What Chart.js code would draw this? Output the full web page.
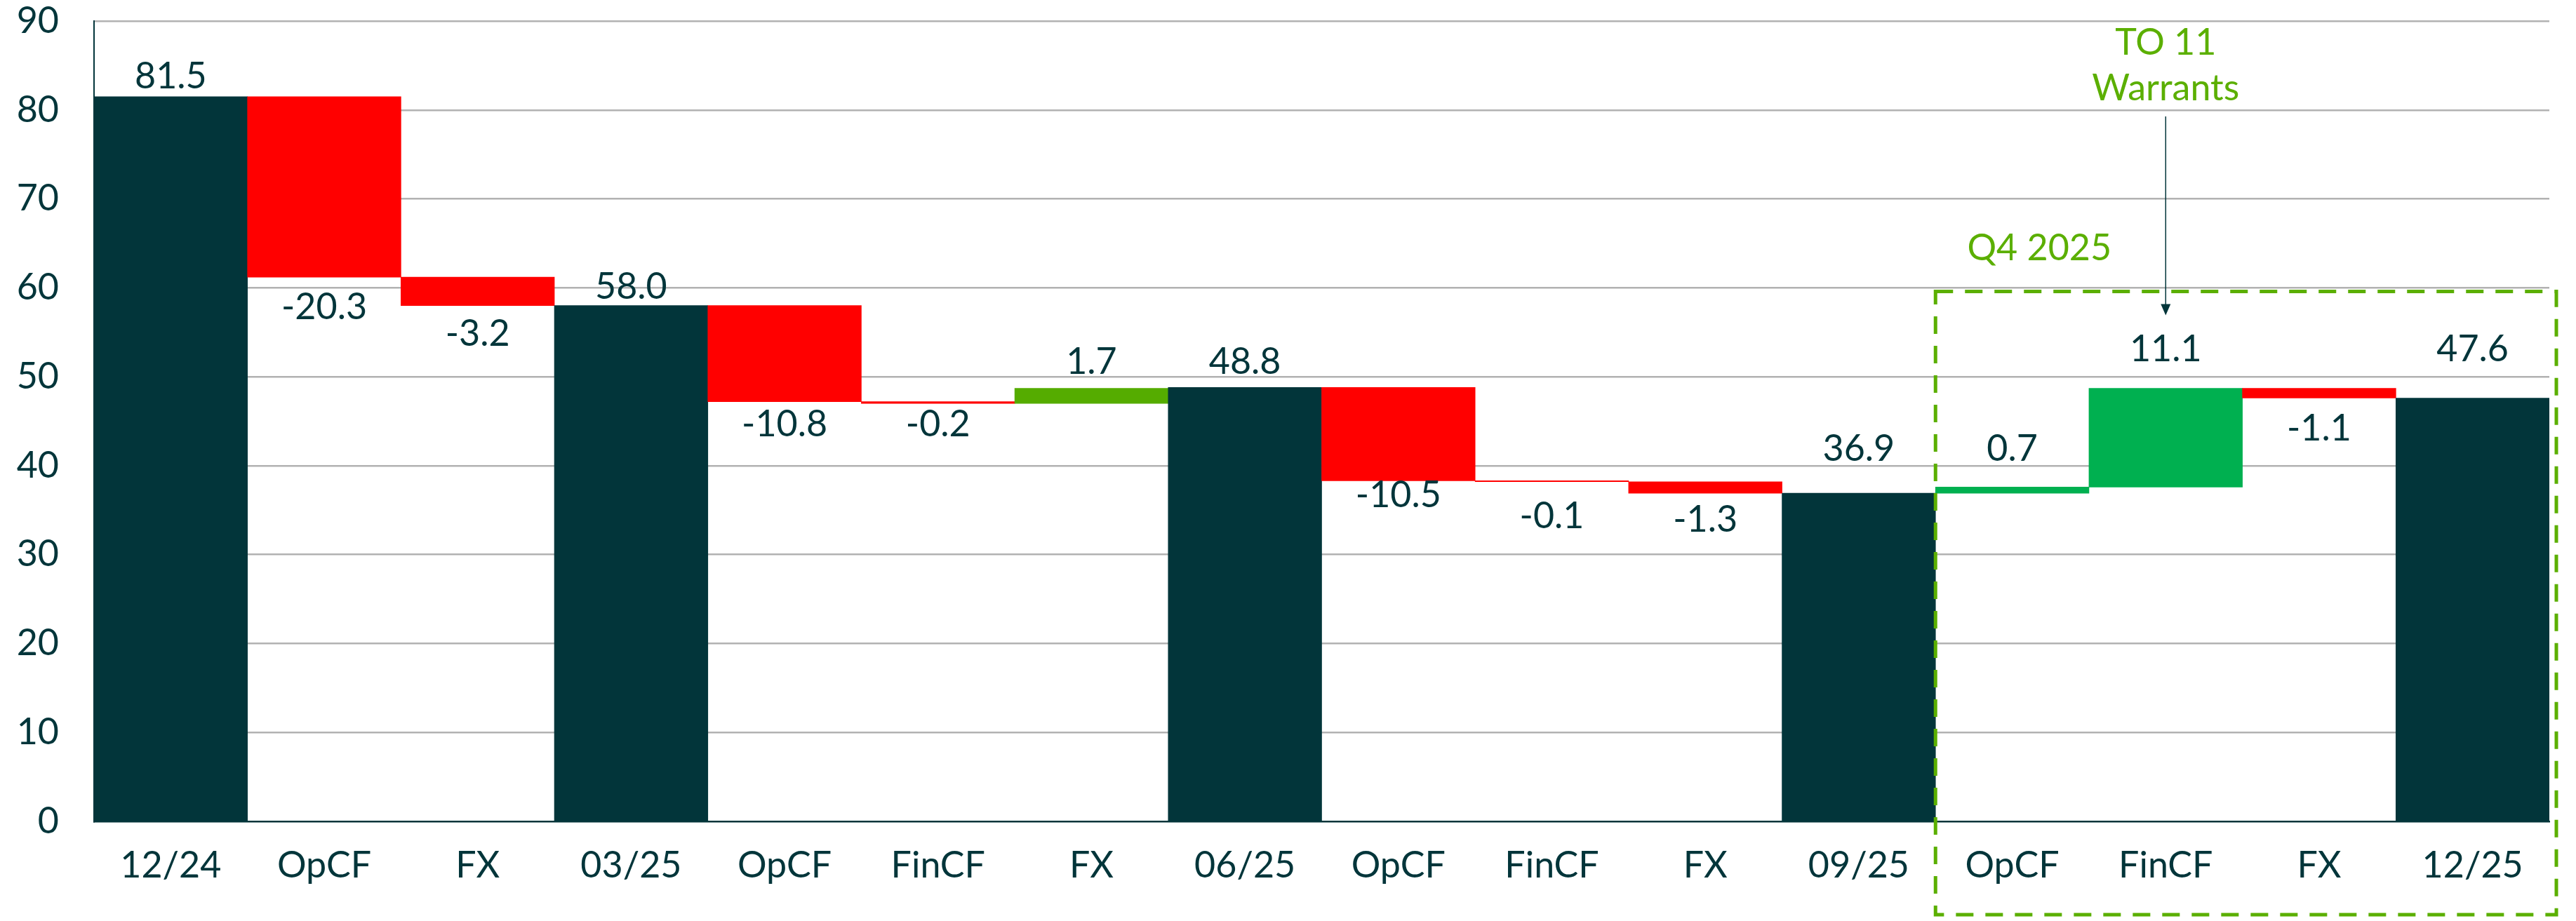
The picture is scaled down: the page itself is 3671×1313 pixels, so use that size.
<!DOCTYPE html>
<html>
<head>
<meta charset="utf-8">
<script src="https://cdn.jsdelivr.net/npm/chart.js@4.4.1/dist/chart.umd.min.js"></script>
<style>
  html, body { margin: 0; padding: 0; background: #fff; }
  #wrap { width: 3671px; height: 1313px; }
</style>
</head>
<body>
<div id="wrap"><canvas id="cashChart" width="3671" height="1313"></canvas></div>
<script>
// --- Data ---
const categories = ['12/24', 'OpCF', 'FX', '03/25', 'OpCF', 'FinCF', 'FX', '06/25',
                    'OpCF', 'FinCF', 'FX', '09/25', 'OpCF', 'FinCF', 'FX', '12/25'];
const values = [81.5, -20.3, -3.2, 58.0, -10.8, -0.2, 1.7, 48.8,
                -10.5, -0.1, -1.3, 36.9, 0.7, 11.1, -1.1, 47.6];
const isTotal = [true, false, false, true, false, false, false, true,
                 false, false, false, true, false, false, false, true];
const yTicks = [0, 10, 20, 30, 40, 50, 60, 70, 80, 90];
const q4Label = 'Q4 2025';
const calloutLines = ['TO 11', 'Warrants'];

// --- Colours ---
const TEAL = '#02353A';
const RED = '#FF0000';
const GREEN_BRIGHT = '#00B050';
const GREEN_LIME = '#55AC00';
const ANNOT = '#5BAF00';
const FONT = 'Lato, "Noto Sans", sans-serif';

// label distance (px) from the bar edge, hand placed in the original slide
const labelGap = [12, 60, 57, 10, 49, 47, 21, 19, 38, 66, 55, 46, 37, 39, 60, 53];

// build floating bars for the waterfall
let running = 0;
const floating = values.map((v, i) => {
    if (isTotal[i]) { running = v; return [0, v]; }
    const start = running;
    running = +(running + v).toFixed(1);
    return [start, running];
});
const colors = values.map((v, i) => {
    if (isTotal[i]) return TEAL;
    if (v < 0) return RED;
    return i >= 12 ? GREEN_BRIGHT : GREEN_LIME;
});

// value labels above / below each bar
const valueLabels = {
    id: 'valueLabels',
    afterDatasetsDraw(chart) {
        const ctx = chart.ctx;
        const meta = chart.getDatasetMeta(0);
        ctx.save();
        ctx.font = '52px ' + FONT;
        ctx.fillStyle = TEAL;
        ctx.textAlign = 'center';
        ctx.textBaseline = 'alphabetic';
        meta.data.forEach((bar, i) => {
            const v = values[i];
            const top = Math.min(bar.y, bar.base);
            const bottom = Math.max(bar.y, bar.base);
            const txt = v.toFixed(1);
            if (v < 0 && !isTotal[i]) {
                ctx.fillText(txt, bar.x, bottom + labelGap[i]);   // baseline below bar
            } else {
                ctx.fillText(txt, bar.x, top - labelGap[i]);
            }
        });
        ctx.restore();
    }
};

// dashed Q4 box, callout text and arrow
const q4Box = {
    id: 'q4Box',
    afterDraw(chart) {
        const ctx = chart.ctx;
        const x = chart.scales.x, y = chart.scales.y;
        const band = (chart.chartArea.right - chart.chartArea.left) / categories.length;
        const left = x.getPixelForValue(12) - band / 2;
        const right = chart.chartArea.right + 10;
        const top = y.getPixelForValue(59.6);
        const bottom = chart.height - 9;

        ctx.save();
        ctx.strokeStyle = ANNOT;
        ctx.lineWidth = 5;
        ctx.setLineDash([25, 17]);
        ctx.strokeRect(left, top, right - left, bottom - top);
        ctx.setLineDash([]);

        ctx.fillStyle = ANNOT;
        ctx.font = '52px ' + FONT;
        ctx.textAlign = 'center';
        ctx.textBaseline = 'alphabetic';
        ctx.fillText(q4Label, left + 148, top - 44);

        const cx = x.getPixelForValue(13);
        ctx.fillText(calloutLines[0], cx, 78);
        ctx.fillText(calloutLines[1], cx, 143);

        // arrow
        const tip = top + 34;
        ctx.strokeStyle = TEAL;
        ctx.fillStyle = TEAL;
        ctx.lineWidth = 1.5;
        ctx.beginPath();
        ctx.moveTo(cx, 166);
        ctx.lineTo(cx, tip - 14);
        ctx.stroke();
        ctx.beginPath();
        ctx.moveTo(cx - 7, tip - 16);
        ctx.lineTo(cx + 7, tip - 16);
        ctx.lineTo(cx, tip);
        ctx.closePath();
        ctx.fill();
        ctx.restore();
    }
};

const ctx = document.getElementById('cashChart').getContext('2d');
new Chart(ctx, {
    type: 'bar',
    data: {
        labels: categories,
        datasets: [{
            data: floating,
            backgroundColor: colors,
            borderWidth: 0,
            barPercentage: 1.0,
            categoryPercentage: 1.0
        }]
    },
    options: {
        responsive: false,
        animation: false,
        devicePixelRatio: 1,
        layout: { padding: { top: 30, right: 38, left: 0, bottom: 0 } },
        plugins: {
            legend: { display: false },
            tooltip: { enabled: false }
        },
        scales: {
            x: {
                grid: { display: false, drawTicks: false },
                border: { display: true, color: TEAL, width: 2.5 },
                ticks: {
                    color: TEAL,
                    font: { family: FONT, size: 52 },
                    padding: 32,
                    maxRotation: 0,
                    autoSkip: false
                },
                afterFit(scale) {
                    scale.height = 142;
                    scale.paddingLeft = 0;
                    scale.paddingRight = 0;
                }
            },
            y: {
                min: 0,
                max: 90,
                afterBuildTicks(scale) { scale.ticks = yTicks.map(v => ({ value: v })); },
                grid: {
                    drawTicks: false,
                    color: ctx => ctx.tick && ctx.tick.value === 0 ? 'rgba(0,0,0,0)' : '#B2B2B2',
                    lineWidth: 2.5
                },
                border: { display: true, color: TEAL, width: 2 },
                ticks: {
                    color: TEAL,
                    font: { family: FONT, size: 52 },
                    padding: 50
                },
                afterFit(scale) {
                    scale.width = 134;
                    scale.paddingTop = 0;
                    scale.paddingBottom = 0;
                }
            }
        }
    },
    plugins: [valueLabels, q4Box]
});
</script>
</body>
</html>
